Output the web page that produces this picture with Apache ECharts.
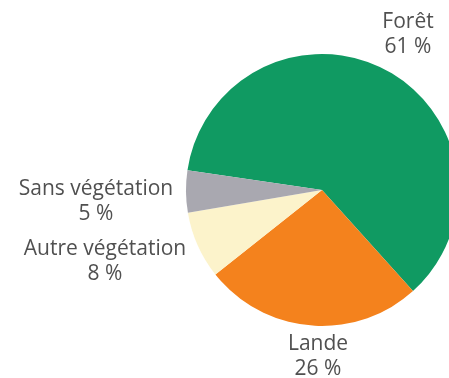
<!DOCTYPE html>
<html>
<head>
<meta charset="utf-8">
<script src="https://cdn.jsdelivr.net/npm/echarts@6/dist/echarts.min.js"></script>
<style>
  html, body { margin: 0; padding: 0; background: #ffffff; }
  #chart { width: 449px; height: 378px; }
</style>
</head>
<body>
<div id="chart"></div>
<script>
// Land cover shares (%)
const categories = ['Forêt', 'Lande', 'Autre végétation', 'Sans végétation'];
const shares = [61, 26, 8, 5];
const colors = ['#109a62', '#f4821d', '#fcf3cb', '#a9a8b0'];

// Label anchor points (centre of each two-line label)
const labelSpots = [
  { x: 408, y: 35 },
  { x: 318, y: 357 },
  { x: 105, y: 262 },
  { x: 96, y: 202 }
];

const chart = echarts.init(document.getElementById('chart'), null, { renderer: 'canvas' });

chart.setOption({
  animation: false,
  backgroundColor: '#ffffff',
  series: [{
    type: 'pie',
    center: [322, 190],
    radius: [0, 136],
    startAngle: 171.6,
    clockwise: true,
    data: categories.map((name, i) => ({
      name: name,
      value: shares[i],
      itemStyle: { color: colors[i] }
    })),
    itemStyle: { borderWidth: 0 },
    emphasis: { disabled: true },
    label: {
      show: true,
      position: 'outside',
      formatter: p => p.name + '\n' + p.value + ' %',
      color: '#505050',
      fontFamily: 'Open Sans',
      fontSize: 21,
      lineHeight: 25,
      align: 'center',
      overflow: 'none'
    },
    labelLine: { show: false },
    labelLayout: params => {
      const s = labelSpots[params.dataIndex];
      return { x: s.x, y: s.y, align: 'center', verticalAlign: 'middle', hideOverlap: false, moveOverlap: null };
    }
  }]
});
</script>
</body>
</html>
